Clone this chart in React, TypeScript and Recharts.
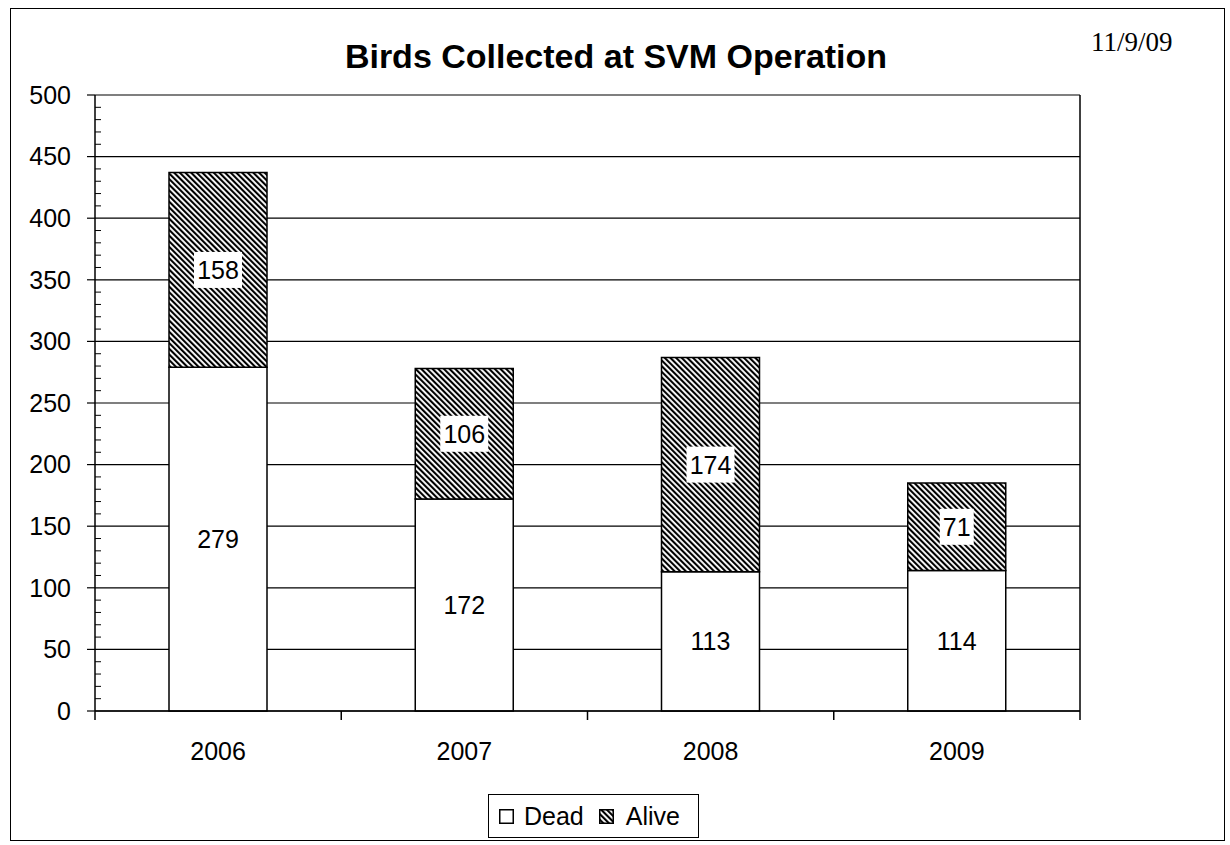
import React from "react";
import {
  Bar,
  BarChart,
  CartesianGrid,
  LabelList,
  Legend,
  XAxis,
  YAxis,
} from "recharts";

const years = ["2006", "2007", "2008", "2009"];
const dead = [279, 172, 113, 114];
const alive = [158, 106, 174, 71];
const yTicks = [0, 50, 100, 150, 200, 250, 300, 350, 400, 450, 500];
const minorTicks = Array.from({ length: 51 }, (_, i) => i * 10);

const data = years.map((year, i) => ({ year, dead: dead[i], alive: alive[i] }));

const FONT = '"Liberation Sans", Arial, sans-serif';
const PLOT_LEFT = 95;
const PLOT_RIGHT = 1080;
const X_LABEL_GAP = 31;
const Y_LABEL_GAP = 24;

function YearTick(props: any) {
  const { x, y, payload, index } = props;
  const band = (PLOT_RIGHT - PLOT_LEFT) / years.length;
  const axisY = y - X_LABEL_GAP;
  return (
    <g>
      <line x1={x - band / 2} y1={axisY} x2={x - band / 2} y2={axisY + 9} stroke="#000" strokeWidth={1.5} />
      {index === years.length - 1 && (
        <line x1={x + band / 2} y1={axisY} x2={x + band / 2} y2={axisY + 9} stroke="#000" strokeWidth={1.5} />
      )}
      <text x={x} y={y} dy="0.71em" textAnchor="middle" fontSize={25} fontFamily={FONT} fill="#000">
        {payload.value}
      </text>
    </g>
  );
}

function ValueTick(props: any) {
  const { x, y, payload } = props;
  const axisX = x + Y_LABEL_GAP;
  if (!yTicks.includes(payload.value)) {
    return <line x1={axisX} y1={y} x2={axisX + 6} y2={y} stroke="#000" strokeWidth={1} />;
  }
  return (
    <g>
      <line x1={axisX - 8} y1={y} x2={axisX} y2={y} stroke="#000" strokeWidth={1.2} />
      <text x={x} y={y} dy="0.355em" textAnchor="end" fontSize={25} fontFamily={FONT} fill="#000">
        {payload.value}
      </text>
    </g>
  );
}

function AliveLabel(props: any) {
  const { x, y, width, height, value } = props;
  const cx = x + width / 2;
  const cy = y + height / 2;
  const w = String(value).length * 14 + 6;
  return (
    <g>
      <rect x={cx - w / 2} y={cy - 18} width={w} height={36} fill="#fff" />
      <text
        x={cx}
        y={cy}
        textAnchor="middle"
        dominantBaseline="central"
        fontSize={25}
        fontFamily={FONT}
        fill="#000"
      >
        {value}
      </text>
    </g>
  );
}

function LegendBox() {
  return (
    <div
      style={{
        width: 211,
        height: 44,
        border: "1.5px solid #000",
        background: "#fff",
        display: "flex",
        alignItems: "center",
        fontFamily: FONT,
        fontSize: 25,
        color: "#000",
        boxSizing: "border-box",
      }}
    >
      <svg width={15} height={15} style={{ marginLeft: 10, marginRight: 10 }}>
        <rect x={0.75} y={0.75} width={13.5} height={13.5} fill="#fff" stroke="#000" strokeWidth={1.5} />
      </svg>
      <span>Dead</span>
      <svg width={15} height={15} style={{ marginLeft: 15, marginRight: 12 }}>
        <rect x={0.75} y={0.75} width={13.5} height={13.5} fill="url(#hatch)" stroke="#000" strokeWidth={1.5} />
      </svg>
      <span>Alive</span>
    </div>
  );
}

export default function App() {
  return (
    <div
      style={{
        position: "absolute",
        left: 0,
        top: 0,
        width: 1230,
        height: 845,
        background: "#fff",
        overflow: "hidden",
      }}
    >
      <svg width={0} height={0} style={{ position: "absolute" }}>
        <defs>
          <pattern
            id="hatch"
            patternUnits="userSpaceOnUse"
            width={4}
            height={4}
            patternTransform="rotate(-45)"
          >
            <rect width={4} height={4} fill="#fff" />
            <line x1={1} y1={0} x2={1} y2={4} stroke="#000" strokeWidth={2.2} />
          </pattern>
        </defs>
      </svg>
      <div
        style={{
          position: "absolute",
          left: 10,
          top: 8,
          width: 1215,
          height: 833,
          border: "1.5px solid #000",
          boxSizing: "border-box",
        }}
      />
      <div
        style={{
          position: "absolute",
          left: 0,
          width: 1232,
          top: 37,
          textAlign: "center",
          fontFamily: FONT,
          fontWeight: "bold",
          fontSize: 34,
          color: "#000",
        }}
      >
        Birds Collected at SVM Operation
      </div>
      <div
        style={{
          position: "absolute",
          left: 1091,
          top: 27,
          fontFamily: '"Liberation Serif", "Times New Roman", serif',
          fontSize: 27,
          color: "#000",
        }}
      >
        11/9/09
      </div>
      <div style={{ position: "absolute", left: 0, top: 0 }}>
        <BarChart
          width={1230}
          height={845}
          data={data}
          margin={{ top: 95, right: 1230 - PLOT_RIGHT, bottom: 84, left: 0 }}
          barCategoryGap={0}
        >
          <CartesianGrid
            vertical={false}
            stroke="#000"
            strokeWidth={1.2}
            horizontalCoordinatesGenerator={({ yAxis, offset }: any) =>
              yTicks.map((v) =>
                yAxis && typeof yAxis.scale === "function"
                  ? yAxis.scale(v)
                  : offset.top + offset.height * (1 - v / 500)
              )
            }
          />
          <CartesianGrid
            horizontal={false}
            stroke="#000"
            strokeWidth={1.5}
            verticalCoordinatesGenerator={({ offset }: any) => [offset.left + offset.width]}
          />
          <XAxis
            dataKey="year"
            height={50}
            axisLine={{ stroke: "#000", strokeWidth: 1.5 }}
            tickLine={false}
            tickSize={0}
            tickMargin={X_LABEL_GAP}
            tick={<YearTick />}
          />
          <YAxis
            domain={[0, 500]}
            ticks={minorTicks}
            width={PLOT_LEFT}
            tickSize={0}
            tickMargin={Y_LABEL_GAP}
            axisLine={{ stroke: "#000", strokeWidth: 1.5 }}
            tickLine={false}
            tick={<ValueTick />}
            interval={0}
          />
          <Legend
            layout="horizontal"
            verticalAlign="middle"
            align="center"
            content={() => <LegendBox />}
            wrapperStyle={{ position: "absolute", left: 488, top: 794, width: 211 }}
          />
          <Bar
            dataKey="dead"
            name="Dead"
            stackId="a"
            barSize={98}
            fill="#fff"
            stroke="#000"
            strokeWidth={1.5}
            isAnimationActive={false}
          >
            <LabelList
              dataKey="dead"
              position="center"
              fill="#000"
              fontSize={25}
              fontFamily={FONT}
            />
          </Bar>
          <Bar
            dataKey="alive"
            name="Alive"
            stackId="a"
            barSize={98}
            fill="url(#hatch)"
            stroke="#000"
            strokeWidth={1.5}
            isAnimationActive={false}
          >
            <LabelList dataKey="alive" content={AliveLabel} />
          </Bar>
        </BarChart>
      </div>
    </div>
  );
}
